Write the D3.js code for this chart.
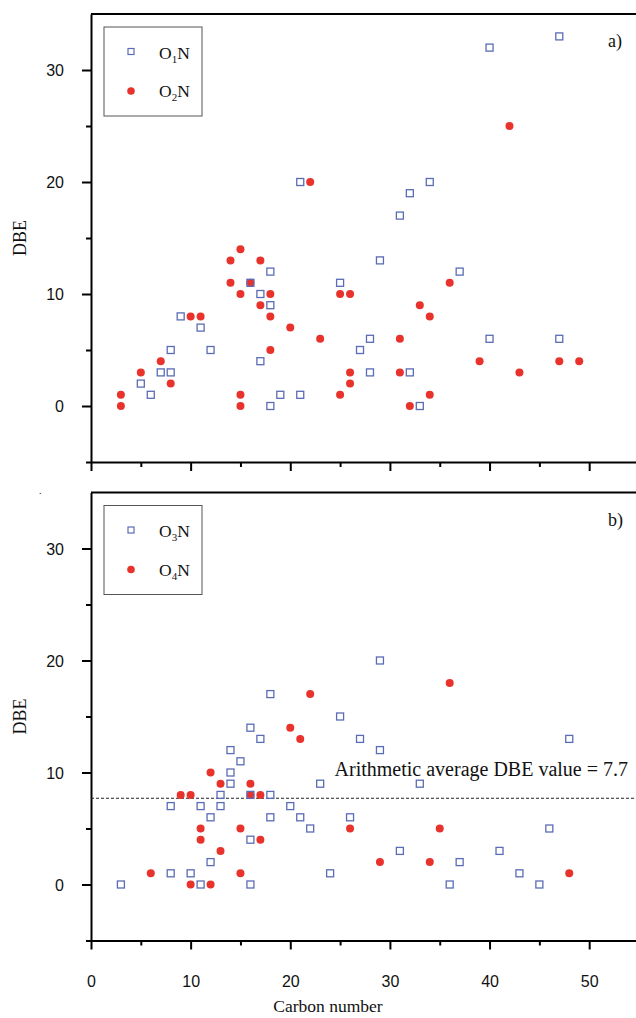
<!DOCTYPE html>
<html>
<head>
<meta charset="utf-8">
<script src="https://cdn.jsdelivr.net/npm/d3@7"></script>
<style>
  body { margin: 0; background: #fff; }
  svg { display: block; }
  .axis path, .axis line { stroke: #000; stroke-width: 2; }
  .axis text { font-family: "Liberation Sans", Arial, sans-serif; font-size: 16px; fill: #111; }
  .serif { font-family: "Liberation Serif", "Times New Roman", serif; fill: #111; }
</style>
</head>
<body>
<svg></svg>
<script>
const width = 636;
const height = 1018;

// [carbon number, DBE]
const o1n = [[21,20],[18,12],[16,11],[25,11],[17,10],[18,9],[9,8],[11,7],[28,6],[8,5],[12,5],[27,5],
  [17,4],[7,3],[8,3],[28,3],[5,2],[6,1],[19,1],[21,1],[18,0],[47,33],[40,32],[34,20],[32,19],[31,17],
  [29,13],[37,12],[40,6],[47,6],[32,3],[33,0]];
const o2n = [[22,20],[15,14],[14,13],[17,13],[14,11],[16,11],[15,10],[18,10],[25,10],[26,10],[17,9],
  [10,8],[11,8],[18,8],[20,7],[23,6],[18,5],[7,4],[5,3],[26,3],[8,2],[26,2],[3,1],[15,1],[25,1],[3,0],
  [15,0],[42,25],[36,11],[33,9],[34,8],[31,6],[39,4],[47,4],[49,4],[31,3],[43,3],[34,1],[32,0]];
const o3n = [[3,0],[18,17],[25,15],[16,14],[17,13],[27,13],[14,12],[15,11],[14,10],[14,9],[23,9],[13,8],
  [16,8],[18,8],[8,7],[11,7],[13,7],[20,7],[12,6],[18,6],[21,6],[26,6],[22,5],[16,4],[12,2],[8,1],[10,1],
  [24,1],[11,0],[16,0],[29,20],[48,13],[29,12],[33,9],[46,5],[31,3],[37,2],[36,0],[41,3],[43,1],[45,0]];
const o4n = [[22,17],[20,14],[21,13],[12,10],[13,9],[16,9],[9,8],[10,8],[16,8],[17,8],[11,5],[15,5],
  [26,5],[11,4],[17,4],[13,3],[6,1],[15,1],[10,0],[12,0],[36,18],[35,5],[29,2],[34,2],[48,1]];

const xTicks = [0, 10, 20, 30, 40, 50];
const xMinor = [5, 15, 25, 35, 45, 55];
const yTicks = [0, 10, 20, 30];
const yMinor = [-5, 5, 15, 25];
const avgDBE = 7.7;

const squareColor = "#5a6cb6";
const circleColor = "#e8332c";

const svg = d3.select("svg").attr("width", width).attr("height", height);

const x = d3.scaleLinear().domain([0, 55]).range([91, 639]);

const panels = [
  { top: 14, bottom: 462, sq: o1n, ci: o2n, names: ["1", "2"], tag: "a)", labels: false },
  { top: 492.5, bottom: 940.5, sq: o3n, ci: o4n, names: ["3", "4"], tag: "b)", labels: true }
];

panels.forEach((p, idx) => {
  const y = d3.scaleLinear().domain([-5, 35]).range([p.bottom, p.top]);
  const g = svg.append("g");

  // top border
  g.append("line")
    .attr("x1", x(0)).attr("x2", width).attr("y1", p.top).attr("y2", p.top)
    .attr("stroke", "#000").attr("stroke-width", 2);

  // y axis
  g.append("g").attr("class", "axis")
    .attr("transform", `translate(${x(0)},0)`)
    .call(d3.axisLeft(y).tickValues(yTicks).tickSize(9).tickSizeOuter(0).tickPadding(18))
    .call(a => a.selectAll("text").attr("dy", "0.36em"));
  g.append("g").attr("class", "axis")
    .attr("transform", `translate(${x(0)},0)`)
    .call(d3.axisLeft(y).tickValues(yMinor).tickSize(5).tickFormat(""))
    .call(a => a.select(".domain").remove());

  // x axis
  g.append("g").attr("class", "axis")
    .attr("transform", `translate(0,${p.bottom})`)
    .call(d3.axisBottom(x).tickValues(xTicks).tickSize(9).tickSizeOuter(0).tickPadding(26)
      .tickFormat(p.labels ? d3.format("d") : ""));
  g.append("g").attr("class", "axis")
    .attr("transform", `translate(0,${p.bottom})`)
    .call(d3.axisBottom(x).tickValues(xMinor).tickSize(5).tickFormat(""))
    .call(a => a.select(".domain").remove());

  // y label
  g.append("text").attr("class", "serif")
    .attr("transform", `translate(25.5,${(p.top + p.bottom) / 2}) rotate(-90)`)
    .attr("text-anchor", "middle")
    .style("font-size", "18px")
    .text("DBE");

  // panel tag
  g.append("text").attr("class", "serif")
    .attr("x", 608).attr("y", p.top + 33)
    .style("font-size", "18px")
    .text(p.tag);

  // average line (panel b)
  if (idx === 1) {
    g.append("line")
      .attr("x1", x(0)).attr("x2", width)
      .attr("y1", y(avgDBE)).attr("y2", y(avgDBE))
      .attr("stroke", "#222").attr("stroke-width", 1)
      .attr("stroke-dasharray", "3,2");
    g.append("text").attr("class", "serif")
      .attr("x", 628).attr("y", y(avgDBE) - 22)
      .attr("text-anchor", "end")
      .style("font-size", "20px")
      .text("Arithmetic average DBE value = " + avgDBE);
  }

  // points
  g.append("g").selectAll("circle").data(p.ci).join("circle")
    .attr("cx", d => x(d[0])).attr("cy", d => y(d[1]))
    .attr("r", 4).attr("fill", circleColor);
  g.append("g").selectAll("rect").data(p.sq).join("rect")
    .attr("x", d => x(d[0]) - 3.5).attr("y", d => y(d[1]) - 3.5)
    .attr("width", 7).attr("height", 7)
    .attr("fill", "none").attr("stroke", squareColor).attr("stroke-width", 1.3);

  // legend
  const lg = g.append("g").attr("transform", `translate(104,${p.top + 13})`);
  lg.append("rect").attr("width", 98).attr("height", 89)
    .attr("fill", "#fff").attr("stroke", "#555").attr("stroke-width", 1);
  lg.append("rect").attr("x", 24).attr("y", 21.5).attr("width", 6).attr("height", 6)
    .attr("fill", "none").attr("stroke", squareColor).attr("stroke-width", 1.2);
  lg.append("circle").attr("cx", 27).attr("cy", 64).attr("r", 3.8).attr("fill", circleColor);
  [0, 1].forEach(i => {
    const t = lg.append("text").attr("class", "serif")
      .attr("x", 55).attr("y", 31.5 + i * 38.5)
      .style("font-size", "17.5px");
    t.append("tspan").text("O");
    t.append("tspan").attr("dy", 4).style("font-size", "11px").text(p.names[i]);
    t.append("tspan").attr("dy", -4).text("N");
  });
});

// stray dot left of panel b
svg.append("text").attr("class", "serif")
  .attr("x", 39).attr("y", 494).style("font-size", "10px").text(".");

// x label
svg.append("text").attr("class", "serif")
  .attr("x", 328).attr("y", 1012)
  .attr("text-anchor", "middle")
  .style("font-size", "17.5px")
  .text("Carbon number");
</script>
</body>
</html>
